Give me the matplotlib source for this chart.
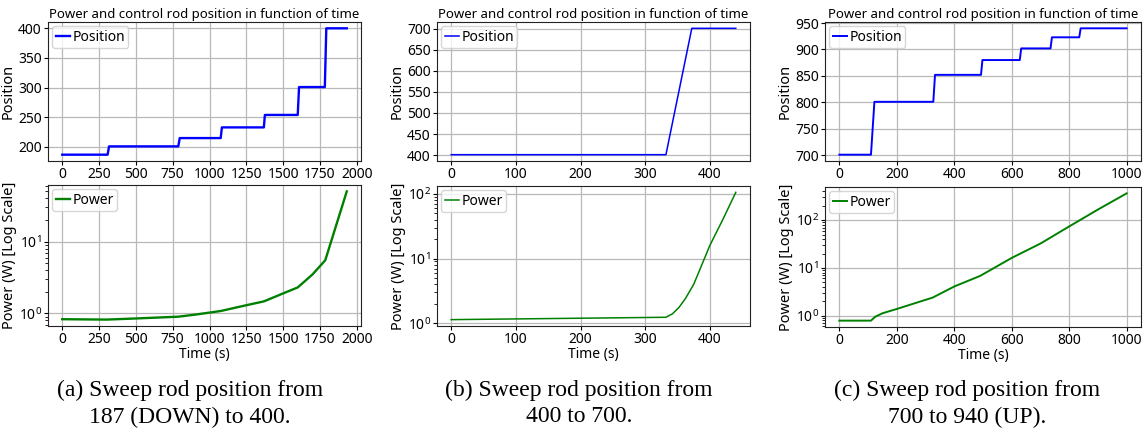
import matplotlib
matplotlib.use("Agg")
import matplotlib.pyplot as plt
from matplotlib.ticker import MultipleLocator

plt.rcParams['font.family'] = ['Noto Sans', 'DejaVu Sans']
plt.rcParams['font.size'] = 10

# (a) sweep from 187 (DOWN) to 400
a_pos_t = [0, 308, 318, 788, 798, 1076, 1084, 1369, 1376, 1599, 1608, 1783, 1793, 1932]
a_pos = [187, 187, 201, 201, 215, 215, 233, 233, 254, 254, 301, 301, 400, 400]
a_pow_t = [0, 300, 500, 788, 900, 1076, 1250, 1369, 1500, 1599, 1700, 1786, 1932]
a_pow = [0.83, 0.82, 0.85, 0.90, 0.96, 1.08, 1.30, 1.47, 1.9, 2.3, 3.5, 5.5, 50]

# (b) sweep from 400 to 700
b_pos_t = [0, 332, 372, 440]
b_pos = [401, 401, 701, 701]
b_pow_t = [0, 332, 342, 352, 362, 375, 400, 420, 440]
b_pow = [1.14, 1.24, 1.4, 1.75, 2.4, 4.0, 16, 40, 105]

# (c) sweep from 700 to 940 (UP)
c_pos_t = [0, 110, 122, 327, 333, 493, 498, 628, 633, 735, 740, 835, 840, 1000]
c_pos = [701, 701, 801, 801, 852, 852, 880, 880, 902, 902, 923, 923, 940, 940]
c_pow_t = [0, 110, 125, 150, 200, 325, 400, 490, 600, 700, 800, 900, 1000]
c_pow = [0.785, 0.785, 0.95, 1.12, 1.38, 2.39, 4.08, 6.8, 16.2, 32.4, 74, 167, 365]

captions = [("(a) Sweep rod position from", "187 (DOWN) to 400."),
            ("(b) Sweep rod position from", "400 to 700."),
            ("(c) Sweep rod position from", "700 to 940 (UP).")]
x_steps = [250, 100, 200]

W, H = 1146, 432
fig = plt.figure(figsize=(W / 100, H / 100), dpi=100)


def px_axes(x0, x1, y0, y1):
    # pixel box (top-left origin) -> figure fraction
    return fig.add_axes([x0 / W, 1 - y1 / H, (x1 - x0) / W, (y1 - y0) / H])


panels = [
    (48, 361, (22, 161), (185, 326), a_pos_t, a_pos, a_pow_t, a_pow, 1.7, 190),
    (437, 750, (22, 161), (186, 326), b_pos_t, b_pos, b_pow_t, b_pow, 1.1, 579),
    (825, 1141, (22, 161), (187, 327), c_pos_t, c_pos, c_pow_t, c_pow, 1.4, 967),
]

for i, (x0, x1, ytop, ybot, pt, pv, wt, wv, lw, cx) in enumerate(panels):
    ax1 = px_axes(x0, x1, *ytop)
    ax1.plot(pt, pv, color='b', lw=lw, label='Position')
    ax1.set_title('Power and control rod position in function of time', fontsize=9.5, pad=3)
    ax1.set_ylabel('Position', fontsize=10.5, labelpad=2)
    ax1.yaxis.set_major_locator(MultipleLocator(50))
    ax1.grid(True, color='#b8b8b8', lw=0.9)
    ax1.legend(loc='upper left', handlelength=1.0, handletextpad=0.2,
               borderpad=0.25, borderaxespad=0.3, fontsize=10)

    ax2 = px_axes(x0, x1, *ybot)
    ax2.plot(wt, wv, color='g', lw=lw, label='Power')
    ax2.set_yscale('log')
    ax2.set_xlabel('Time (s)', fontsize=10, labelpad=0)
    ax2.set_ylabel('Power (W) [Log Scale]', fontsize=10.5, labelpad=1)
    ax2.grid(True, color='#b8b8b8', lw=0.9)
    ax2.legend(loc='upper left', handlelength=1.0, handletextpad=0.2,
               borderpad=0.25, borderaxespad=0.3, fontsize=10)

    for ax in (ax1, ax2):
        ax.xaxis.set_major_locator(MultipleLocator(x_steps[i]))
        ax.tick_params(labelsize=10, length=3, pad=1.5)
        for s in ax.spines.values():
            s.set_color('#222222')

    for j, line in enumerate(captions[i]):
        fig.text(cx / W, 1 - (390 + 27 * j) / H, line, ha='center', va='center',
                 family='Liberation Serif', fontsize=17)

fig.savefig('out.png', dpi=100)
